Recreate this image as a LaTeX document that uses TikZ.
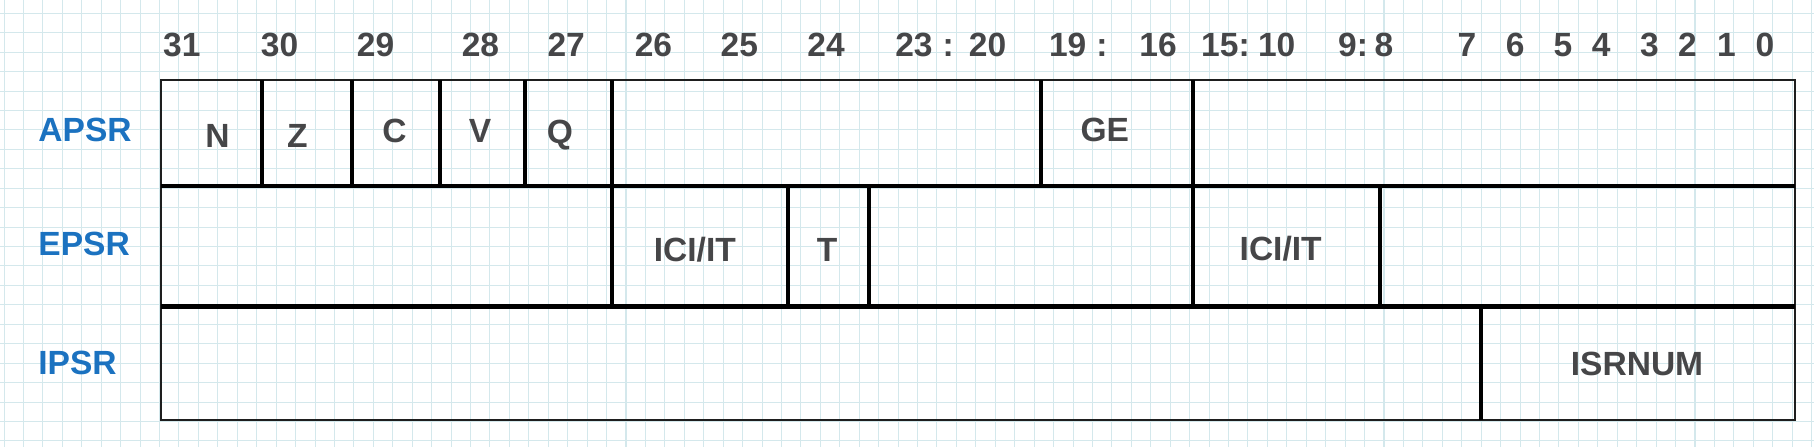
\documentclass[tikz,border=0pt]{standalone}
\usepackage{fontspec}
\setmainfont{Liberation Sans}
\definecolor{gridc}{RGB}{212,232,236}
\definecolor{txtc}{RGB}{70,70,72}
\definecolor{regc}{RGB}{27,114,192}
\definecolor{linec}{RGB}{30,30,30}
\begin{document}
\begin{tikzpicture}[x=1pt,y=-1pt,
  gridline/.style={draw=gridc, line width=0.9pt},
  frame/.style={draw=linec, line width=1.7pt},
  sepline/.style={draw=black, line width=3.6pt},
  bitno/.style={font=\fontsize{29}{30}\selectfont\bfseries, text=txtc, inner sep=0pt, text height=20.8pt, text depth=0pt},
  field/.style={bitno},
  regname/.style={font=\fontsize{29}{30}\selectfont\bfseries, text=regc, inner sep=0pt, text height=20.8pt, text depth=0pt, anchor=west}]
\useasboundingbox (0,0) rectangle (1568,386);
\fill[white] (0,0) rectangle (1568,386);
% background grid
\foreach \i in {0,...,93} \draw[gridline] ({3.5+16.8*\i},0) -- ++(0,386);
\foreach \j in {0,...,22} \draw[gridline] (0,{11.5+16.8*\j}) -- ++(1568,0);
% register frame
\draw[frame] (139.5,69.2) rectangle (1551.5,363);
% row separators
\draw[sepline] (139.5,160.8) -- (1551.5,160.8);
\draw[sepline] (139.5,265) -- (1551.5,265);
% APSR dividers
\foreach \x in {226.5,304.5,380.5,454,899.5} \draw[sepline] (\x,69.2) -- (\x,160.8);
\foreach \x in {529,1031.5} \draw[sepline] (\x,69.2) -- (\x,265);
% EPSR dividers
\foreach \x in {681,751.5,1193} \draw[sepline] (\x,160.8) -- (\x,265);
% IPSR divider
\draw[sepline] (1280.5,263) -- (1280.5,363);
% register names
\node[regname] (apsr) at (33,111.5) {APSR};
\node[regname] (epsr) at (33,210.7) {EPSR};
\node[regname] (ipsr) at (33,313) {IPSR};
% bit numbers
\node[bitno] (b31) at (157.2,38.2) {31};
\node[bitno] (b30) at (241.7,38.2) {30};
\node[bitno] (b29) at (324.7,38.2) {29};
\node[bitno] (b28) at (415.3,38.2) {28};
\node[bitno] (b27) at (489.4,38.2) {27};
\node[bitno] (b26) at (564.8,38.2) {26};
\node[bitno] (b25) at (639,38.2) {25};
\node[bitno] (b24) at (714,38.2) {24};
\node[bitno] (b2320) at (821.8,38.2) {23\hspace{0.3em}:\hspace{0.45em}20};
\node[bitno] (b1916) at (962,38.2) {19\hspace{0.3em}:\hspace{0.95em}16};
\node[bitno] (b1510) at (1079,38.2) {15:\hspace{0.25em}10};
\node[bitno] (b98) at (1180.5,38.2) {9:\hspace{0.2em}8};
\node[bitno] (b7) at (1268,38.2) {7};
\node[bitno] (b6) at (1309.6,38.2) {6};
\node[bitno] (b5) at (1351,38.2) {5};
\node[bitno] (b4) at (1384,38.2) {4};
\node[bitno] (b3) at (1425.8,38.2) {3};
\node[bitno] (b2) at (1458.6,38.2) {2};
\node[bitno] (b1) at (1492.4,38.2) {1};
\node[bitno] (b0) at (1525.6,38.2) {0};
% APSR fields
\node[field] (fN) at (188,117) {N};
\node[field] (fZ) at (257,117) {Z};
\node[field] (fC) at (341,112.5) {C};
\node[field] (fV) at (415,113) {V};
\node[field] (fQ) at (484,114) {Q};
\node[field] (fGE) at (955,111.6) {GE};
% EPSR fields
\node[field] (fICIa) at (600.6,216) {ICI/IT};
\node[field] (fT) at (715,216) {T};
\node[field] (fICIb) at (1107,214.6) {ICI/IT};
% IPSR fields
\node[field] (fISR) at (1415,314) {ISRNUM};
\end{tikzpicture}
\end{document}
